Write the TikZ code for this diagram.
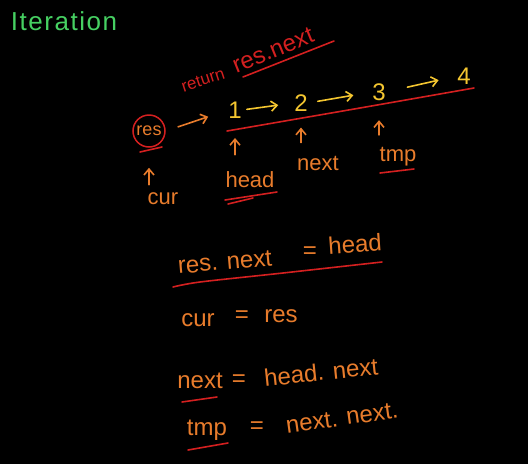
\documentclass[tikz,border=0pt]{standalone}
\usepackage{fontspec}
\setmainfont{Liberation Sans}
\usetikzlibrary{arrows.meta}
\definecolor{hand}{RGB}{232,124,44}
\definecolor{ink}{RGB}{212,32,32}
\definecolor{gold}{RGB}{244,198,48}
\definecolor{leaf}{RGB}{70,208,98}
\begin{document}
\begin{tikzpicture}[x=1pt,y=-1pt,
  txt/.style={inner sep=0pt, text=hand, font=\fontsize{24}{26}\selectfont},
  lbl/.style={inner sep=0pt, text=hand, font=\fontsize{22}{24}\selectfont},
  num/.style={inner sep=0pt, text=gold, font=\fontsize{24}{26}\selectfont},
  redtxt/.style={inner sep=0pt, text=ink},
  tipp/.style={-{Straight Barb[length=6pt,width=10pt]}, line width=1.6pt, line cap=round},
  oarrow/.style={tipp, draw=hand},
  yarrow/.style={tipp, draw=gold},
  uline/.style={draw=ink, line width=1.6pt, line cap=round}]
\fill[black] (0,0) rectangle (528,464);
\useasboundingbox (0,0) rectangle (528,464);

% title
\node[inner sep=0pt, text=leaf, font=\fontsize{26}{28}\selectfont\addfontfeature{LetterSpace=6}] (title) at (64,21) {Iteration};

% return res.next
\node[redtxt, rotate=18, font=\fontsize{17}{19}\selectfont] (ret) at (203,80) {return};
\node[redtxt, rotate=22, font=\fontsize{24}{26}\selectfont] (retres) at (273,50) {res.next};
\draw[uline] (243,77) -- (334,41);

% list
\node[circle, draw=ink, line width=1.5pt, minimum size=32pt, inner sep=0pt, text=hand, font=\fontsize{18}{20}\selectfont] (res) at (149,131) {res};
\draw[uline] (140,152) -- (162,147);
\node[num] (n1) at (235,110) {1};
\node[num] (n2) at (301,103) {2};
\node[num] (n3) at (379,92) {3};
\node[num] (n4) at (464,76) {4};
\draw[oarrow, shorten <=13pt, shorten >=21pt] (res.east) -- (n1.west);
\draw[yarrow, shorten <=5pt, shorten >=16pt] (n1.east) -- (n2.west);
\draw[yarrow, shorten <=10pt, shorten >=19pt] (n2.east) -- (n3.west);
\draw[yarrow, shorten <=22pt, shorten >=19pt] (n3.east) -- (n4.west);
\draw[uline] plot[smooth] coordinates {(227,131) (360,108) (474,88)};

% pointers
\node[lbl] (cur) at (163,199) {cur};
\node[lbl] (head) at (250,180) {head};
\node[lbl] (next) at (318,163) {next};
\node[lbl] (tmp) at (398,157) {tmp};
\draw[oarrow, shorten <=8pt, shorten >=20pt] (cur.north -| res.south) -- (res.south);
\draw[oarrow, shorten <=17pt, shorten >=19.5pt] (head.north -| n1.south) -- (n1.south);
\draw[oarrow, shorten <=13pt, shorten >=16pt] (next.north -| n2.south) -- (n2.south);
\draw[oarrow, shorten <=12.5pt, shorten >=19.5pt] (tmp.north -| n3.south) -- (n3.south);
\draw[uline] (225,200) -- (277,192);
\draw[uline] (228,204) -- (253,198);
\draw[uline] (380,173) -- (414,169);

% equations
\node[txt, rotate=5] (e1a) at (225,262) {res. next};
\node[txt] (e1b) at (310,253) {=};
\node[txt, rotate=4] (e1c) at (355,244) {head};
\draw[uline] plot[smooth] coordinates {(173,287) (200,282) (283,273) (382,262)};

\node[txt] (e2a) at (198,320) {cur};
\node[txt] (e2b) at (242,317) {=};
\node[txt] (e2c) at (281,316) {res};

\node[txt] (e3a) at (200,381) {next};
\node[txt] (e3b) at (239,381) {=};
\node[txt, rotate=6] (e3c) at (321,372) {head. next};
\draw[uline] (182,402) -- (217,397);

\node[txt] (e4a) at (207,430) {tmp};
\node[txt] (e4b) at (257,428) {=};
\node[txt, rotate=8] (e4c) at (342,418) {next. next.};
\draw[uline] (188,450) -- (228,443);
\end{tikzpicture}
\end{document}
